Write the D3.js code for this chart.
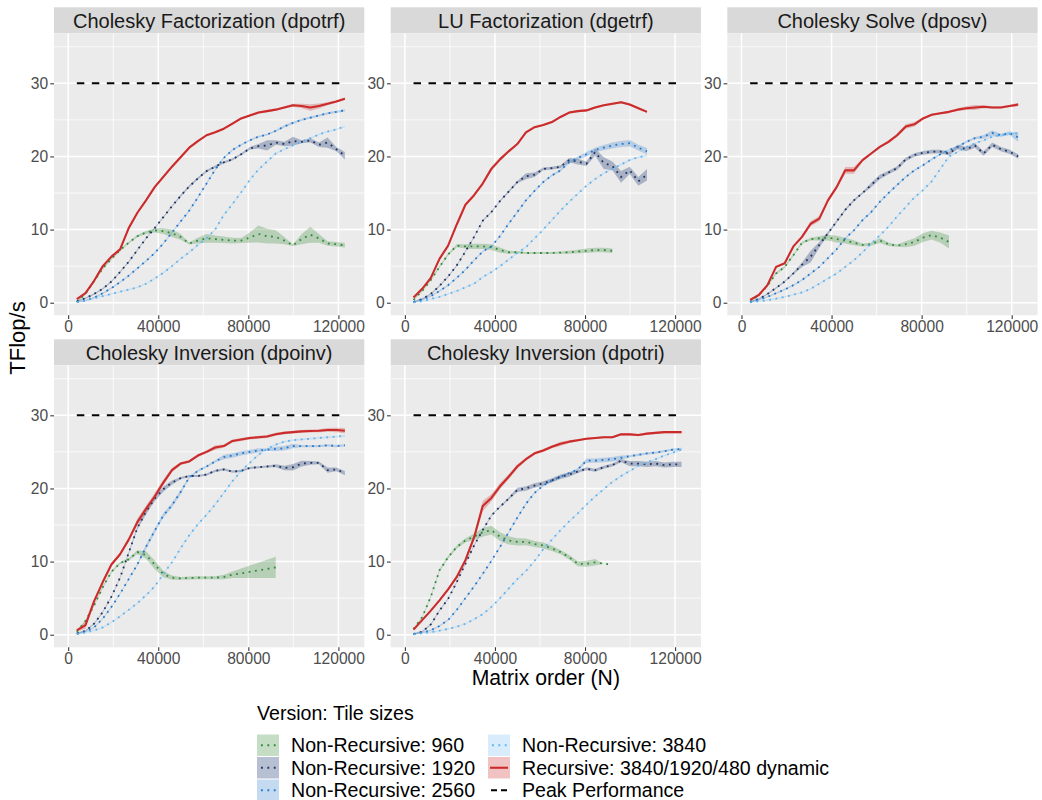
<!DOCTYPE html>
<html>
<head>
<meta charset="utf-8">
<script src="https://cdn.jsdelivr.net/npm/d3@7"></script>
<style>
  body { margin: 0; background: #ffffff; }
  svg { display: block; font-family: "Liberation Sans", Arial, Helvetica, sans-serif; }
</style>
</head>
<body>
<svg id="chart" width="1042" height="800"></svg>
<script>
// ---- Data -------------------------------------------------------------
// Matrix orders: multiples of 3840 up to 122880
const matrixOrder = d3.range(1, 33).map(k => 3840 * k);

const xTicks = [0, 40000, 80000, 120000];
const xMinorTicks = [20000, 60000, 100000];
const yTicks = [0, 10, 20, 30];
const yMinorTicks = [5, 15, 25, 35];
const peakTFlops = 30;

const versionNames = [
  "Non-Recursive: 960",
  "Non-Recursive: 1920",
  "Non-Recursive: 2560",
  "Non-Recursive: 3840",
  "Recursive: 3840/1920/480 dynamic",
  "Peak Performance"
];

const panelTitles = [
  "Cholesky Factorization (dpotrf)",
  "LU Factorization (dgetrf)",
  "Cholesky Solve (dposv)",
  "Cholesky Inversion (dpoinv)",
  "Cholesky Inversion (dpotri)"
];

// TFlop/s means and half-widths of the run-to-run spread

// dpotrf
const potrf960 = [0.1,1.2,3.0,4.7,6.0,7.2,8.2,9.1,9.6,9.9,9.8,9.5,9.0,8.1,8.5,8.8,8.7,8.6,8.5,8.5,8.9,9.4,9.1,9.0,8.5,7.85,8.7,9.3,8.8,8.1,8.0,7.85];
const potrf960Band = [0.1,0.1,0.15,0.15,0.15,0.15,0.15,0.15,0.2,0.3,0.4,0.5,0.4,0.15,0.4,0.6,0.5,0.45,0.4,0.35,0.7,1.15,1.0,0.9,0.5,0.1,0.7,1.1,0.6,0.3,0.3,0.3];
const potrf1920 = [0.2,0.6,1.2,1.9,2.9,4.2,5.6,7.2,8.8,10.2,11.7,13.2,14.6,15.9,17.0,18.0,18.6,19.2,19.6,20.3,21.1,21.4,21.5,21.9,21.7,22.1,22.0,22.2,21.6,21.9,21.0,20.1];
const potrf1920Band = [0.1,0.1,0.1,0.1,0.1,0.1,0.1,0.1,0.1,0.1,0.1,0.1,0.15,0.15,0.15,0.15,0.15,0.15,0.15,0.15,0.2,0.3,0.7,0.3,0.3,0.6,0.2,0.3,0.3,0.7,0.3,0.5];
const potrf2560 = [0.1,0.3,0.7,1.3,2.0,2.8,3.7,4.7,5.7,6.8,8.1,9.6,11.1,12.6,14.4,16.3,18.2,19.8,20.9,21.6,22.2,22.7,23.0,23.5,24.1,24.6,25.0,25.3,25.6,25.9,26.1,26.3];
const potrf2560Band = [0.1,0.1,0.1,0.1,0.1,0.1,0.1,0.1,0.1,0.1,0.1,0.1,0.12,0.12,0.12,0.12,0.12,0.12,0.12,0.12,0.12,0.12,0.12,0.12,0.15,0.15,0.15,0.15,0.15,0.15,0.15,0.15];
const potrf3840 = [0.1,0.3,0.6,0.9,1.2,1.5,1.8,2.1,2.6,3.3,4.1,5.0,6.0,6.9,7.9,8.8,10.0,12.0,13.5,15.1,16.8,18.2,19.3,20.4,21.0,21.5,22.0,22.5,23.0,23.4,23.7,24.1];
const potrf3840Band = [0.08,0.08,0.08,0.08,0.08,0.08,0.08,0.08,0.08,0.1,0.1,0.1,0.1,0.1,0.1,0.1,0.1,0.1,0.1,0.1,0.1,0.1,0.1,0.1,0.1,0.1,0.1,0.1,0.1,0.1,0.1,0.1];
const potrfRec = [0.5,1.3,3.0,5.0,6.3,7.3,10.2,12.3,14.0,15.8,17.2,18.6,19.9,21.2,22.1,22.9,23.3,23.8,24.5,25.2,25.6,26.0,26.2,26.4,26.7,27.0,26.9,26.7,26.9,27.2,27.5,27.9];
const potrfRecBand = [0.1,0.1,0.15,0.15,0.15,0.15,0.15,0.15,0.15,0.2,0.2,0.2,0.15,0.15,0.15,0.15,0.15,0.15,0.15,0.15,0.15,0.15,0.15,0.15,0.15,0.2,0.3,0.45,0.35,0.2,0.15,0.15];

// dgetrf
const getrf960 = [0.4,1.6,3.1,4.9,6.6,7.8,7.7,7.7,7.7,7.6,7.2,6.9,6.9,6.8,6.8,6.8,6.8,6.85,6.9,7.0,7.1,7.2,7.2,7.1];
const getrf960Band = [0.1,0.1,0.1,0.15,0.15,0.2,0.3,0.35,0.35,0.4,0.35,0.2,0.15,0.15,0.15,0.15,0.15,0.15,0.2,0.25,0.3,0.3,0.3,0.3];
const getrf1920 = [0.1,0.5,1.2,2.3,3.6,5.1,7.0,9.0,11.2,12.4,13.9,15.2,16.5,17.3,17.5,18.3,18.4,18.6,19.5,19.3,19.0,20.6,19.1,18.7,17.2,18.1,16.6,17.5];
const getrf1920Band = [0.1,0.1,0.1,0.1,0.1,0.1,0.1,0.1,0.1,0.1,0.1,0.15,0.15,0.4,0.3,0.2,0.2,0.2,0.3,0.4,0.3,0.5,0.8,0.6,0.8,0.5,0.6,0.8];
const getrf2560 = [0.1,0.4,0.9,1.6,2.4,3.4,4.5,5.8,7.0,7.7,9.1,10.8,12.4,14.0,15.3,16.5,17.4,18.1,19.2,19.8,20.3,20.9,21.2,21.5,21.7,21.8,21.2,20.7];
const getrf2560Band = [0.1,0.1,0.1,0.1,0.1,0.1,0.1,0.1,0.1,0.1,0.1,0.12,0.12,0.12,0.12,0.12,0.12,0.15,0.15,0.2,0.3,0.3,0.35,0.4,0.4,0.45,0.4,0.45];
const getrf3840 = [0.05,0.2,0.5,0.8,1.2,1.6,2.1,2.6,3.5,4.2,5.0,5.9,6.8,7.6,8.8,10.0,11.3,12.6,13.8,14.9,16.0,16.9,17.7,18.3,18.9,19.5,19.9,20.1];
const getrf3840Band = [0.08,0.08,0.08,0.08,0.08,0.08,0.08,0.08,0.08,0.1,0.1,0.1,0.1,0.1,0.1,0.1,0.1,0.1,0.1,0.1,0.1,0.1,0.1,0.1,0.12,0.12,0.12,0.12];
const getrfRec = [0.7,1.9,3.4,6.0,7.8,10.7,13.4,14.7,16.3,18.3,19.6,20.7,21.7,23.3,24.0,24.3,24.7,25.4,26.0,26.2,26.3,26.7,27.0,27.2,27.4,27.1,26.6,26.1];
const getrfRecBand = [0.1,0.1,0.1,0.15,0.15,0.15,0.15,0.15,0.2,0.3,0.25,0.15,0.15,0.15,0.15,0.15,0.15,0.15,0.15,0.15,0.15,0.15,0.15,0.15,0.15,0.15,0.15,0.15];

// dposv
const posv960 = [0.1,1.05,2.3,4.0,4.9,6.5,8.2,8.7,8.8,8.9,8.7,8.5,8.2,7.9,8.0,8.5,8.0,7.8,8.0,8.3,8.9,9.25,8.9,8.3];
const posv960Band = [0.1,0.1,0.1,0.15,0.15,0.15,0.15,0.2,0.3,0.4,0.45,0.4,0.35,0.2,0.2,0.35,0.25,0.15,0.4,0.5,0.6,0.6,0.7,0.9];
const posv1920 = [0.1,0.5,1.2,2.0,2.9,4.0,5.2,6.3,7.9,9.5,11.1,12.7,14.0,15.0,16.1,17.2,17.8,18.4,19.6,20.2,20.5,20.65,20.65,20.4,21.3,21.0,21.5,20.4,21.6,21.0,20.65,20.0];
const posv1920Band = [0.1,0.1,0.1,0.1,0.1,0.15,0.3,0.8,0.4,0.2,0.15,0.15,0.15,0.15,0.3,0.3,0.25,0.25,0.25,0.25,0.25,0.25,0.25,0.25,0.3,0.3,0.3,0.3,0.3,0.3,0.3,0.3];
const posv2560 = [0.1,0.4,0.8,1.3,1.8,2.4,3.1,4.0,4.9,6.1,7.3,8.8,9.9,11.3,12.4,13.8,15.0,16.1,17.2,18.1,18.8,19.6,20.3,20.9,21.3,22.0,22.5,22.7,23.2,22.9,23.2,22.6];
const posv2560Band = [0.1,0.1,0.1,0.1,0.1,0.1,0.1,0.1,0.1,0.1,0.1,0.12,0.12,0.12,0.12,0.12,0.12,0.12,0.12,0.12,0.12,0.12,0.12,0.12,0.15,0.15,0.15,0.25,0.35,0.2,0.25,0.6];
const posv3840 = [0.05,0.2,0.35,0.55,0.8,1.1,1.4,1.9,2.6,3.3,4.0,4.9,5.8,6.9,8.1,9.2,10.4,11.8,13.1,14.4,15.4,16.6,18.3,20.0,20.6,21.3,21.8,22.2,22.7,22.9,23.1,23.2];
const posv3840Band = [0.08,0.08,0.08,0.08,0.08,0.08,0.08,0.08,0.08,0.1,0.1,0.1,0.1,0.1,0.1,0.1,0.1,0.1,0.1,0.1,0.1,0.1,0.1,0.1,0.1,0.1,0.1,0.1,0.12,0.12,0.12,0.12];
const posvRec = [0.4,1.05,2.4,4.9,5.4,7.7,9.0,10.8,11.5,14.0,15.8,18.1,18.1,19.5,20.4,21.3,22.0,22.9,24.1,24.4,25.2,25.7,25.9,26.1,26.4,26.6,26.7,26.8,26.7,26.7,26.9,27.1];
const posvRecBand = [0.1,0.1,0.15,0.15,0.15,0.15,0.2,0.35,0.35,0.25,0.2,0.45,0.45,0.2,0.15,0.15,0.2,0.25,0.3,0.3,0.15,0.15,0.15,0.15,0.2,0.25,0.35,0.2,0.15,0.15,0.15,0.25];

// dpoinv
const poinv960 = [0.4,1.9,4.0,6.5,8.6,9.8,10.3,11.3,10.9,9.6,8.3,7.8,7.7,7.75,7.8,7.8,7.8,7.9,8.2,8.4,8.6,8.8,9.0,9.2];
const poinv960Band = [0.1,0.1,0.1,0.15,0.15,0.15,0.2,0.25,0.5,0.6,0.45,0.3,0.2,0.2,0.2,0.2,0.2,0.3,0.45,0.65,0.85,1.05,1.25,1.45];
const poinv1920 = [0.2,0.5,1.5,3.1,5.2,7.8,11.2,14.6,16.8,18.6,19.9,20.8,21.4,21.7,21.7,21.9,22.4,22.6,22.3,22.4,22.8,22.9,23.0,23.1,22.8,22.9,23.4,23.5,23.5,22.5,22.6,22.1];
const poinv1920Band = [0.1,0.1,0.1,0.1,0.1,0.1,0.15,0.2,0.35,0.35,0.35,0.3,0.15,0.15,0.15,0.15,0.15,0.15,0.15,0.15,0.15,0.15,0.15,0.2,0.3,0.45,0.4,0.25,0.2,0.35,0.25,0.3];
const poinv2560 = [0.1,0.4,1.0,2.2,3.8,5.6,7.6,9.6,12.0,14.2,16.3,17.7,19.5,21.5,22.4,23.0,23.7,24.3,24.5,24.8,25.0,25.2,25.3,25.4,25.5,25.8,25.8,25.8,25.8,25.9,25.8,25.9];
const poinv2560Band = [0.1,0.1,0.1,0.1,0.1,0.1,0.1,0.15,0.3,0.3,0.3,0.3,0.3,0.15,0.15,0.15,0.15,0.3,0.3,0.3,0.3,0.3,0.15,0.3,0.3,0.3,0.15,0.15,0.15,0.15,0.15,0.15];
const poinv3840 = [0.1,0.3,0.6,1.0,1.7,2.5,3.4,4.3,5.4,6.6,8.3,9.9,11.8,13.6,15.1,16.4,17.8,19.4,21.0,22.4,23.5,24.6,25.4,26.0,26.4,26.6,26.7,26.8,26.9,27.0,27.1,27.2];
const poinv3840Band = [0.08,0.08,0.08,0.08,0.08,0.08,0.08,0.08,0.1,0.1,0.1,0.1,0.12,0.12,0.12,0.12,0.12,0.12,0.12,0.12,0.12,0.12,0.12,0.12,0.12,0.12,0.12,0.12,0.12,0.12,0.12,0.15];
const poinvRec = [0.6,1.3,4.6,7.2,9.6,11.0,13.0,15.4,17.2,18.9,20.8,22.5,23.4,23.7,24.5,25.0,25.6,25.8,26.5,26.7,26.9,27.0,27.1,27.4,27.6,27.7,27.8,27.85,27.9,28.0,28.0,27.9];
const poinvRecBand = [0.15,0.5,0.2,0.2,0.2,0.2,0.2,0.45,0.45,0.45,0.4,0.3,0.2,0.2,0.2,0.2,0.3,0.2,0.2,0.2,0.2,0.2,0.2,0.2,0.2,0.2,0.2,0.2,0.2,0.25,0.3,0.35];

// dpotri
const potri960 = [0.8,2.4,5.2,8.8,10.6,12.0,12.9,13.4,14.0,14.3,13.4,12.9,12.7,12.7,12.4,12.2,11.8,11.3,10.6,9.7,9.7,9.9,9.7,9.6];
const potri960Band = [0.1,0.1,0.15,0.15,0.2,0.2,0.3,0.4,0.6,0.6,0.6,0.55,0.5,0.45,0.4,0.4,0.35,0.3,0.3,0.35,0.4,0.45,0.0,0.0];
const potri1920 = [0.1,0.4,1.4,3.3,4.9,7.2,9.7,12.2,14.3,16.3,17.5,18.6,19.8,20.0,20.4,20.7,21.1,21.6,21.9,22.3,22.7,22.5,22.9,23.2,23.8,23.4,23.4,23.3,23.4,23.2,23.3,23.3];
const potri1920Band = [0.1,0.1,0.1,0.1,0.1,0.1,0.1,0.1,0.1,0.1,0.1,0.15,0.3,0.3,0.3,0.3,0.3,0.3,0.3,0.2,0.2,0.2,0.2,0.2,0.2,0.35,0.35,0.35,0.35,0.35,0.35,0.35];
const potri2560 = [0.1,0.3,0.6,1.2,2.0,3.4,5.0,6.6,8.3,10.1,12.0,14.0,16.0,17.9,19.4,20.4,21.1,21.6,22.1,22.6,23.8,23.8,23.9,24.0,24.2,24.4,24.6,24.8,24.9,25.1,25.3,25.4];
const potri2560Band = [0.1,0.1,0.1,0.1,0.1,0.1,0.1,0.1,0.1,0.1,0.1,0.12,0.12,0.12,0.12,0.12,0.12,0.12,0.12,0.15,0.3,0.3,0.3,0.3,0.3,0.15,0.15,0.15,0.15,0.15,0.15,0.15];
const potri3840 = [0.05,0.2,0.35,0.55,0.8,1.1,1.5,2.1,2.8,3.8,5.0,6.3,7.6,8.7,10.1,11.7,13.0,14.3,15.5,16.6,17.8,18.9,19.9,20.9,21.7,22.4,23.1,23.6,24.0,24.5,24.9,25.3];
const potri3840Band = [0.08,0.08,0.08,0.08,0.08,0.08,0.08,0.08,0.08,0.1,0.1,0.1,0.1,0.1,0.1,0.1,0.1,0.1,0.1,0.1,0.1,0.1,0.1,0.1,0.1,0.1,0.1,0.1,0.1,0.1,0.1,0.12];
const potriRec = [0.7,2.0,3.3,4.7,6.2,7.9,10.2,13.3,17.6,18.7,20.3,21.6,23.0,24.0,24.8,25.2,25.7,26.1,26.4,26.6,26.8,26.9,27.0,27.0,27.4,27.4,27.3,27.5,27.6,27.7,27.7,27.7];
const potriRecBand = [0.1,0.1,0.1,0.15,0.15,0.2,0.3,0.4,0.7,0.5,0.4,0.35,0.3,0.2,0.2,0.2,0.2,0.3,0.2,0.15,0.15,0.15,0.15,0.15,0.15,0.15,0.15,0.15,0.15,0.15,0.15,0.15];

// ---- Per-panel assembly ----------------------------------------------
const panelSeries = [
  { means: [potrf960, potrf1920, potrf2560, potrf3840, potrfRec],
    bands: [potrf960Band, potrf1920Band, potrf2560Band, potrf3840Band, potrfRecBand] },
  { means: [getrf960, getrf1920, getrf2560, getrf3840, getrfRec],
    bands: [getrf960Band, getrf1920Band, getrf2560Band, getrf3840Band, getrfRecBand] },
  { means: [posv960, posv1920, posv2560, posv3840, posvRec],
    bands: [posv960Band, posv1920Band, posv2560Band, posv3840Band, posvRecBand] },
  { means: [poinv960, poinv1920, poinv2560, poinv3840, poinvRec],
    bands: [poinv960Band, poinv1920Band, poinv2560Band, poinv3840Band, poinvRecBand] },
  { means: [potri960, potri1920, potri2560, potri3840, potriRec],
    bands: [potri960Band, potri1920Band, potri2560Band, potri3840Band, potriRecBand] }
];

// ---- Styling ------------------------------------------------------------
const lineColors = ["#2f8a3c", "#1e3360", "#2277cc", "#5db3f0", "#cc2b2b"];
const fillColors = ["#3b8f3b", "#12306b", "#3a86d2", "#7fc0f2", "#cc3636"];
const ribbonOpacity = 0.3;
const dotWidth = 1.8;
const dotDash = "1.8 4.6";

const colLeft = [54, 390.7, 727.3];
const panelW = 310.3;
const stripTop = [7.3, 339.3];
const stripH = 26;
const panelTop = [33.3, 365.3];
const panelH = 282;

const x = d3.scaleLinear().domain([-6300, 131500]).range([0, panelW]);
const y = d3.scaleLinear().domain([-1.72, 36.84]).range([panelH, 0]);

const svg = d3.select("#chart");
svg.append("rect").attr("width", 1042).attr("height", 800).attr("fill", "#ffffff");

panelTitles.forEach((title, p) => {
  const row = Math.floor(p / 3), col = p % 3;
  const left = colLeft[col];

  // strip
  svg.append("rect")
    .attr("x", left).attr("y", stripTop[row])
    .attr("width", panelW).attr("height", stripH)
    .attr("fill", "#d9d9d9");
  svg.append("text")
    .attr("x", left + panelW / 2).attr("y", stripTop[row] + stripH / 2 + 7.6)
    .attr("text-anchor", "middle")
    .attr("font-size", 20).attr("fill", "#1a1a1a")
    .text(title);

  const g = svg.append("g").attr("transform", `translate(${left},${panelTop[row]})`);
  g.append("rect").attr("width", panelW).attr("height", panelH).attr("fill", "#ebebeb");

  // grid
  g.selectAll(".ymin").data(yMinorTicks).join("line")
    .attr("x1", 0).attr("x2", panelW).attr("y1", d => y(d)).attr("y2", d => y(d))
    .attr("stroke", "#ffffff").attr("stroke-width", 0.75);
  g.selectAll(".xmin").data(xMinorTicks).join("line")
    .attr("y1", 0).attr("y2", panelH).attr("x1", d => x(d)).attr("x2", d => x(d))
    .attr("stroke", "#ffffff").attr("stroke-width", 0.75);
  g.selectAll(".ymaj").data(yTicks).join("line")
    .attr("x1", 0).attr("x2", panelW).attr("y1", d => y(d)).attr("y2", d => y(d))
    .attr("stroke", "#ffffff").attr("stroke-width", 1.5);
  g.selectAll(".xmaj").data(xTicks).join("line")
    .attr("y1", 0).attr("y2", panelH).attr("x1", d => x(d)).attr("x2", d => x(d))
    .attr("stroke", "#ffffff").attr("stroke-width", 1.5);

  // axes
  const yAxis = g.append("g").call(d3.axisLeft(y).tickValues(yTicks).tickSize(3.7).tickPadding(2.2));
  const xAxis = g.append("g").attr("transform", `translate(0,${panelH})`)
    .call(d3.axisBottom(x).tickValues(xTicks).tickSize(3.7).tickPadding(2.2).tickFormat(d3.format("d")));
  [yAxis, xAxis].forEach(a => {
    a.select(".domain").remove();
    a.selectAll(".tick line").attr("stroke", "#333333").attr("stroke-width", 1.07);
    a.selectAll(".tick text").attr("fill", "#4d4d4d").attr("font-size", 15.6)
      .attr("font-family", "Liberation Sans, Arial, sans-serif");
  });

  const { means, bands } = panelSeries[p];

  // ribbons
  means.forEach((vals, s) => {
    const pts = vals.map((v, i) => ({ n: matrixOrder[i], lo: v - bands[s][i], hi: v + bands[s][i] }));
    g.append("path").datum(pts)
      .attr("d", d3.area().x(d => x(d.n)).y0(d => y(d.lo)).y1(d => y(d.hi)))
      .attr("fill", fillColors[s]).attr("fill-opacity", ribbonOpacity);
  });

  // lines
  means.forEach((vals, s) => {
    const pts = vals.map((v, i) => ({ n: matrixOrder[i], v }));
    const path = g.append("path").datum(pts)
      .attr("d", d3.line().x(d => x(d.n)).y(d => y(d.v)))
      .attr("fill", "none").attr("stroke", lineColors[s]);
    if (s === 4) {
      path.attr("stroke-width", 2.1).attr("stroke-linejoin", "round");
    } else {
      path.attr("stroke-width", dotWidth).attr("stroke-dasharray", dotDash);
    }
  });

  // theoretical peak
  g.append("line")
    .attr("x1", x(matrixOrder[0])).attr("x2", x(matrixOrder[matrixOrder.length - 1]))
    .attr("y1", y(peakTFlops)).attr("y2", y(peakTFlops))
    .attr("stroke", "#000000").attr("stroke-width", 2).attr("stroke-dasharray", "7.5 7.5");
});

// axis titles
svg.append("text")
  .attr("transform", "translate(25,338) rotate(-90)")
  .attr("text-anchor", "middle").attr("font-size", 22).attr("fill", "#000000")
  .text("TFlop/s");
svg.append("text")
  .attr("x", 545.8).attr("y", 685)
  .attr("text-anchor", "middle").attr("font-size", 21.2).attr("fill", "#000000")
  .text("Matrix order (N)");

// ---- Legend -------------------------------------------------------------
const legend = svg.append("g");
legend.append("text").attr("x", 257).attr("y", 720)
  .attr("font-size", 19.6).attr("fill", "#000000").text("Version: Tile sizes");

const keyW = 22, keyH = 21.5;
const keyX = [257, 488], keyY = [734.5, 757, 779.5];
versionNames.forEach((name, i) => {
  const col = Math.floor(i / 3), row = i % 3;
  const kx = keyX[col], ky = keyY[row];
  const k = legend.append("g").attr("transform", `translate(${kx},${ky})`);
  if (i < 5) {
    k.append("rect").attr("width", keyW).attr("height", keyH)
      .attr("fill", fillColors[i]).attr("fill-opacity", ribbonOpacity);
    const ln = k.append("line").attr("y1", keyH / 2).attr("y2", keyH / 2).attr("stroke", lineColors[i]);
    if (i === 4) ln.attr("x1", 2).attr("x2", keyW - 2).attr("stroke-width", 2.1);
    else ln.attr("x1", 4).attr("x2", keyW - 3).attr("stroke-width", dotWidth).attr("stroke-dasharray", dotDash);
  } else {
    k.append("line").attr("x1", 3).attr("x2", keyW - 3)
      .attr("y1", keyH / 2).attr("y2", keyH / 2)
      .attr("stroke", "#000000").attr("stroke-width", 2).attr("stroke-dasharray", "6 4");
  }
  legend.append("text").attr("x", kx + 34).attr("y", ky + keyH / 2 + 7)
    .attr("font-size", 19.6).attr("fill", "#000000").text(name);
});
</script>
</body>
</html>
